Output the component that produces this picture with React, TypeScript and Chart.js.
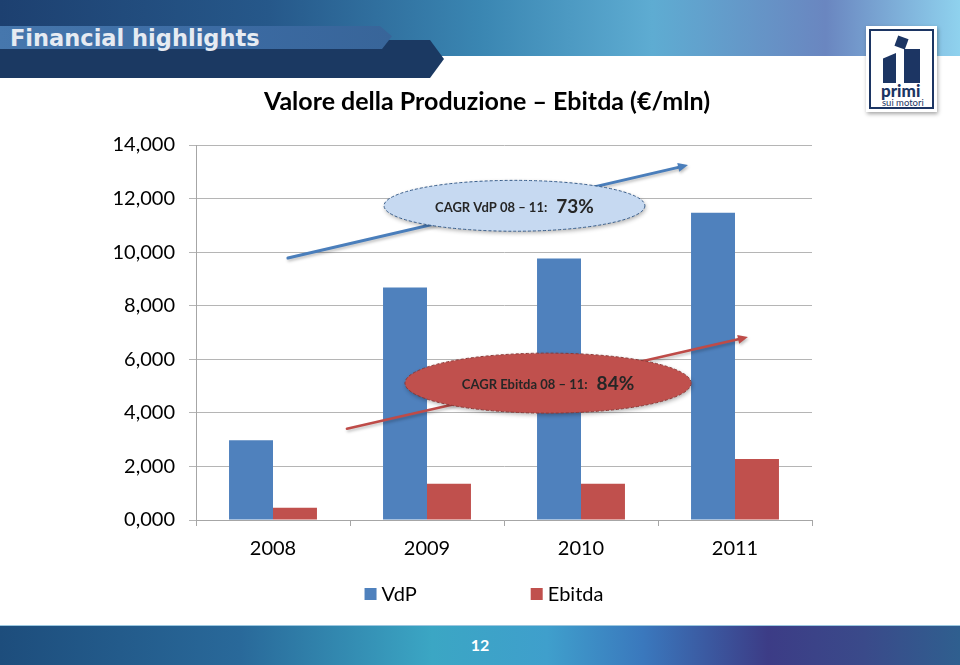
import React, { useEffect, useRef } from "react";
import { Chart, registerables } from "chart.js";

Chart.register(...registerables);

// ---------- data ----------
const years = ["2008", "2009", "2010", "2011"];
const vdpValues = [2980, 8680, 9760, 11470];
const ebitdaValues = [460, 1350, 1350, 2280];
const seriesNames = ["VdP", "Ebitda"];
const yMin = 0;
const yMax = 14000;
const yStep = 2000;
const chartTitle = "Valore della Produzione – Ebitda (€/mln)";
const pageTitle = "Financial highlights";
const pageNumber = "12";
const cagrVdpLabel = "CAGR VdP 08 – 11:";
const cagrVdpValue = "73%";
const cagrEbitdaLabel = "CAGR Ebitda 08 – 11:";
const cagrEbitdaValue = "84%";

// annotation placement in data space (category index, value)
const vdpArrowFrom = [0.097, 9780];
const vdpArrowTo = [2.695, 13250];
const ebitdaArrowFrom = [0.48, 3410];
const ebitdaArrowTo = [3.084, 6830];
const vdpBubbleCenter = [1.568, 11730];
const vdpBubbleRadius = [0.847, 950];
const ebitdaBubbleCenter = [1.786, 5110];
const ebitdaBubbleRadius = [0.929, 1120];

const FONT = 'Lato, "Open Sans", "Noto Sans", sans-serif';
const BLUE = "#4f81bd";
const RED = "#c0504d";

const yTickFormat = (v: number) => `${Math.round(v / 1000)},000`;

function drawArrow(ctx: CanvasRenderingContext2D, x0: number, y0: number, x1: number, y1: number, color: string, width: number) {
  const ang = Math.atan2(y1 - y0, x1 - x0);
  const head = 10;
  const hw = 4.5;
  const bx = x1 - head * Math.cos(ang);
  const by = y1 - head * Math.sin(ang);
  ctx.save();
  ctx.shadowColor = "rgba(0,0,0,0.25)";
  ctx.shadowBlur = 3;
  ctx.shadowOffsetX = 1;
  ctx.shadowOffsetY = 2;
  ctx.strokeStyle = color;
  ctx.lineWidth = width;
  ctx.lineCap = "round";
  ctx.beginPath();
  ctx.moveTo(x0, y0);
  ctx.lineTo(bx, by);
  ctx.stroke();
  ctx.fillStyle = color;
  ctx.beginPath();
  ctx.moveTo(x1, y1);
  ctx.lineTo(bx + hw * Math.sin(ang), by - hw * Math.cos(ang));
  ctx.lineTo(bx - hw * Math.sin(ang), by + hw * Math.cos(ang));
  ctx.closePath();
  ctx.fill();
  ctx.restore();
}

function drawBubble(
  ctx: CanvasRenderingContext2D,
  cx: number, cy: number, rx: number, ry: number,
  fill: string, stroke: string, label: string, value: string
) {
  ctx.save();
  ctx.shadowColor = "rgba(0,0,0,0.3)";
  ctx.shadowBlur = 4;
  ctx.shadowOffsetX = 1;
  ctx.shadowOffsetY = 2;
  ctx.fillStyle = fill;
  ctx.beginPath();
  ctx.ellipse(cx, cy, rx, ry, 0, 0, Math.PI * 2);
  ctx.fill();
  ctx.restore();
  ctx.save();
  ctx.strokeStyle = stroke;
  ctx.lineWidth = 1;
  ctx.setLineDash([3, 2]);
  ctx.beginPath();
  ctx.ellipse(cx, cy, rx, ry, 0, 0, Math.PI * 2);
  ctx.stroke();
  ctx.setLineDash([]);
  ctx.fillStyle = "#262626";
  ctx.textBaseline = "alphabetic";
  const lf = `bold 13px ${FONT}`;
  const vf = `bold 19px ${FONT}`;
  ctx.font = lf;
  const lw = ctx.measureText(label).width;
  ctx.font = vf;
  const vw = ctx.measureText(value).width;
  const gap = 9;
  const start = cx - (lw + gap + vw) / 2;
  const base = cy + 6;
  ctx.font = lf;
  ctx.fillText(label, start, base);
  ctx.font = vf;
  ctx.fillText(value, start + lw + gap, base + 1);
  ctx.restore();
}

const annotationPlugin = {
  id: "cagrAnnotations",
  afterDatasetsDraw(chart: any) {
    const { ctx } = chart;
    const x = chart.scales.x;
    const y = chart.scales.y;
    const px = (v: number) => x.getPixelForValue(v);
    const py = (v: number) => y.getPixelForValue(v);
    drawArrow(ctx, px(vdpArrowFrom[0]), py(vdpArrowFrom[1]), px(vdpArrowTo[0]), py(vdpArrowTo[1]), "#4a7ebb", 3);
    drawArrow(ctx, px(ebitdaArrowFrom[0]), py(ebitdaArrowFrom[1]), px(ebitdaArrowTo[0]), py(ebitdaArrowTo[1]), "#be4b48", 2.5);
    drawBubble(
      ctx,
      px(vdpBubbleCenter[0]), py(vdpBubbleCenter[1]),
      px(vdpBubbleCenter[0] + vdpBubbleRadius[0]) - px(vdpBubbleCenter[0]),
      py(vdpBubbleCenter[1] - vdpBubbleRadius[1]) - py(vdpBubbleCenter[1]),
      "#c6d9f1", "#385d8a", cagrVdpLabel, cagrVdpValue
    );
    drawBubble(
      ctx,
      px(ebitdaBubbleCenter[0]), py(ebitdaBubbleCenter[1]),
      px(ebitdaBubbleCenter[0] + ebitdaBubbleRadius[0]) - px(ebitdaBubbleCenter[0]),
      py(ebitdaBubbleCenter[1] - ebitdaBubbleRadius[1]) - py(ebitdaBubbleCenter[1]),
      "#c0504d", "#8c3836", cagrEbitdaLabel, cagrEbitdaValue
    );
  },
};

const wideLegendPlugin = {
  id: "wideLegend",
  afterDraw(chart: any) {
    const ctx = chart.ctx as CanvasRenderingContext2D;
    ctx.save();
    ctx.font = `20px ${FONT}`;
    const box = 12;
    const textGap = 5;
    const itemGap = 114;
    const items = chart.data.datasets.map((d: any) => ({
      text: d.label,
      color: d.backgroundColor,
      w: ctx.measureText(d.label).width,
    }));
    const total =
      items.reduce((s: number, it: any) => s + box + textGap + it.w, 0) + itemGap * (items.length - 1);
    let cx = 484 - total / 2;
    const cy = chart.chartArea.bottom + 74;
    ctx.textBaseline = "middle";
    ctx.textAlign = "left";
    items.forEach((it: any) => {
      ctx.fillStyle = it.color;
      ctx.fillRect(cx, cy - box / 2, box, box);
      ctx.fillStyle = "#000";
      ctx.fillText(it.text, cx + box + textGap, cy + 1);
      cx += box + textGap + it.w + itemGap;
    });
    ctx.restore();
  },
};

function BarChart() {
  const ref = useRef<HTMLCanvasElement | null>(null);
  useEffect(() => {
    if (!ref.current) return;
    const chart = new Chart(ref.current, {
      type: "bar",
      data: {
        labels: years,
        datasets: [
          { label: seriesNames[0], data: vdpValues, backgroundColor: BLUE, categoryPercentage: 0.571, barPercentage: 1 },
          { label: seriesNames[1], data: ebitdaValues, backgroundColor: RED, categoryPercentage: 0.571, barPercentage: 1 },
        ],
      },
      options: {
        responsive: false,
        animation: false,
        layout: { padding: { left: 14, right: 0, top: 0, bottom: 105 } },
        plugins: {
          legend: { display: false },
          tooltip: { enabled: false },
          title: {
            display: true,
            text: chartTitle,
            color: "#000",
            font: { family: FONT, size: 25, weight: "bold", lineHeight: 1.2 },
            padding: { top: 87, bottom: 28 },
          },
        },
        scales: {
          x: {
            grid: { drawOnChartArea: false, drawTicks: true, tickLength: 6, color: "#a6a6a6", offset: true },
            border: { color: "#a6a6a6" },
            ticks: { color: "#000", font: { family: FONT, size: 20 }, padding: 11 },
            afterFit: (s: any) => { s.height = 40; },
          },
          y: {
            min: yMin,
            max: yMax,
            grid: { color: "#b5b5b5", tickLength: 7 },
            border: { color: "#a6a6a6" },
            ticks: {
              stepSize: yStep,
              color: "#000",
              font: { family: FONT, size: 20 },
              padding: 14,
              callback: (v: any) => yTickFormat(Number(v)),
            },
            afterFit: (s: any) => { s.width = 182; },
          },
          yRightSpace: {
            position: "right",
            display: true,
            grid: { display: false, drawTicks: false },
            border: { display: false },
            ticks: { display: false },
            afterFit: (s: any) => { s.width = 148; },
          },
        },
      },
      plugins: [annotationPlugin, wideLegendPlugin],
    } as any);
    return () => chart.destroy();
  }, []);
  return <canvas ref={ref} width={960} height={665} style={{ position: "absolute", left: 0, top: 0 }} />;
}

function Logo() {
  return (
    <div
      style={{
        position: "absolute", left: 866, top: 26, width: 71, height: 86, background: "#fff",
        boxShadow: "1px 2px 4px rgba(0,0,0,0.35)",
      }}
    >
      <div style={{ position: "absolute", left: 3, top: 3, right: 3, bottom: 3, border: "2px solid #1c3563" }} />
      <div style={{ position: "absolute", left: 30, top: 11, width: 11, height: 11, background: "#1c3563", transform: "rotate(20deg)" }} />
      <div style={{ position: "absolute", left: 17, top: 27, width: 13, height: 30, background: "#1c3563", clipPath: "polygon(0 18%, 100% 0, 100% 100%, 0 100%)" }} />
      <div style={{ position: "absolute", left: 38, top: 23, width: 16, height: 34, background: "#1c3563" }} />
      <div style={{ position: "absolute", left: 15, top: 56, fontFamily: FONT, fontWeight: 900, fontSize: 17, color: "#1c3563", lineHeight: "17px" }}>primi</div>
      <div style={{ position: "absolute", left: 16, top: 72, fontFamily: FONT, fontSize: 9.5, color: "#1c3563", lineHeight: "10px", whiteSpace: "nowrap" }}>sui motori</div>
    </div>
  );
}

export default function App() {
  return (
    <div style={{ position: "fixed", left: 0, top: 0, width: 960, height: 665, overflow: "hidden", background: "#fff" }}>
      <div
        style={{
          position: "absolute", left: 0, top: 0, width: 960, height: 56,
          background: "linear-gradient(90deg, #1d4070 0%, #26588a 28%, #3a86b2 50%, #5eacd2 68%, #6a86c0 86%, #8fd2ee 100%)",
        }}
      />
      <div
        style={{
          position: "absolute", left: 0, top: 40, width: 444, height: 38, background: "#1b3962",
          clipPath: "polygon(0 0, 430px 0, 444px 50%, 430px 100%, 0 100%)",
        }}
      />
      <div
        style={{
          position: "absolute", left: 0, top: 26, width: 392, height: 23,
          background: "linear-gradient(90deg, #4677ad 0%, #3b6aa2 60%, #386599 100%)",
          clipPath: "polygon(0 0, 380px 0, 392px 45%, 382px 100%, 0 100%)",
        }}
      />
      <div
        style={{
          position: "absolute", left: 10, top: 25, fontFamily: '"DejaVu Sans", sans-serif', fontWeight: 700, fontSize: 22.5,
          lineHeight: "26px", color: "#e6ebf2", whiteSpace: "nowrap",
        }}
      >
        {pageTitle}
      </div>
      <Logo />
      <div
        style={{
          position: "absolute", left: 0, top: 625, width: 960, height: 40,
          background:
            "linear-gradient(90deg, #1d4d7c 0%, #29699a 25%, #3ba6c4 45%, #3f9fcc 57%, #3a78bd 67%, #3c3c86 80%, #3a4a8a 90%, #2f5f8f 100%)",
          borderTop: "1px solid #9cc8e0",
        }}
      />
      <div
        style={{
          position: "absolute", left: 0, width: 960, top: 635, textAlign: "center",
          fontFamily: FONT, fontSize: 16, fontWeight: 700, color: "#fff", lineHeight: "20px",
        }}
      >
        {pageNumber}
      </div>
      <BarChart />
    </div>
  );
}
